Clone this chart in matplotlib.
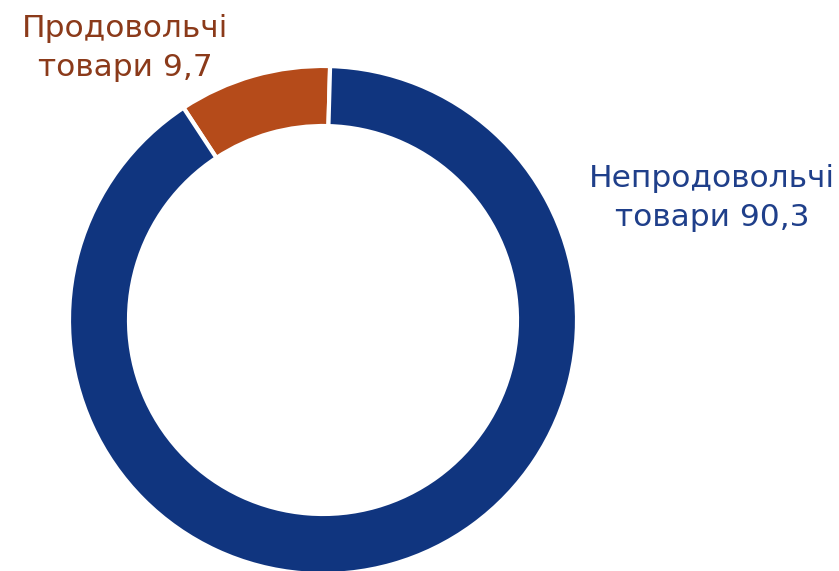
import matplotlib.pyplot as plt

labels = ['Продовольчі\nтовари 9,7', 'Непродовольчі\nтовари 90,3']
values = [9.7, 90.3]
colors = ['#B54B1A', '#10357F']
text_colors = ['#8B3A1A', '#1F3F8A']

fig = plt.figure(figsize=(8.39, 5.71), dpi=100)
ax = fig.add_axes([0, 0, 1, 1])

# pie centre at (323, 320) px, outer radius 254 px
r = 254.0
cx, cy = 323.0, 320.0
ax.axis('off')

ax.pie(values, colors=colors, startangle=88.4, counterclock=True,
       radius=1, wedgeprops=dict(width=60 / r, edgecolor='white', linewidth=3))
ax.set_aspect('auto')
ax.set_xlim(-cx / r, (839 - cx) / r)
ax.set_ylim(-(571 - cy) / r, cy / r)

ax.text((125 - cx) / r, (cy - 48) / r, labels[0], color=text_colors[0],
        fontsize=22.5, ha='center', va='center', linespacing=1.4)
ax.text((712 - cx) / r, (cy - 198) / r, labels[1], color=text_colors[1],
        fontsize=22.5, ha='center', va='center', linespacing=1.4)

fig.savefig('out.png', dpi=100)
